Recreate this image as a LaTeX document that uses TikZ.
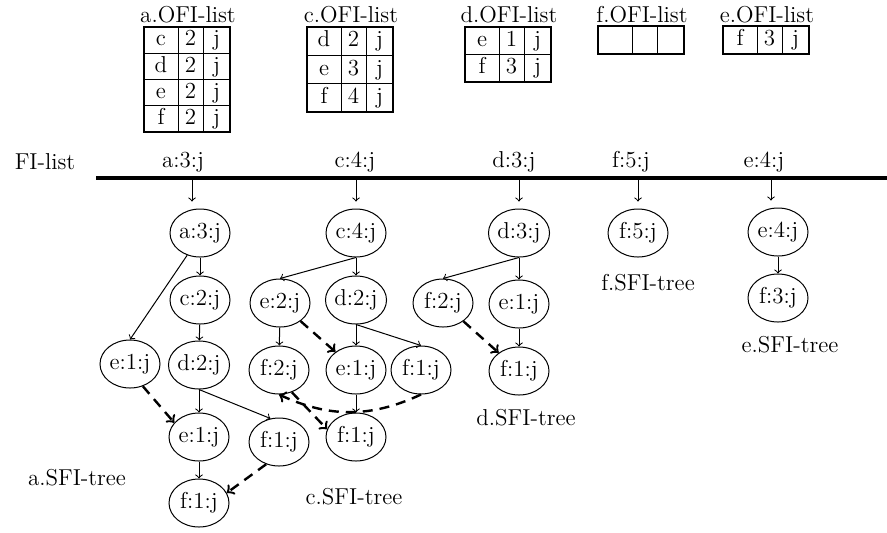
\documentclass[tikz,border=0pt]{standalone}
\usepackage{fontspec}
\usepackage{tikz}
\usetikzlibrary{arrows,shapes}
\tikzstyle{treenode}=[ellipse,draw,line width=0.5pt,minimum width=30pt,minimum height=24pt,inner sep=0pt]
\tikzstyle{cell}=[inner sep=0pt,text height=1.6ex,text depth=0.3ex]
\tikzstyle{link}=[->,line width=0.5pt]
\tikzstyle{crosslink}=[->,line width=1.2pt,dash pattern=on 5pt off 3.5pt]

\begin{document}
\begin{tikzpicture}[x=0.5pt,y=-0.5pt,font=\fontsize{11.5}{13.5}\selectfont]
    \useasboundingbox (0,0) rectangle (887,532);

%OFI-lists
    \def\cw{86};
    \foreach \tx/\ty/\rh/\n/\tn in {144/27/26.25/4/a, 307/27/28.3/3/c, 465/27/27.5/2/d, 598/26/28/1/f, 723/26/28/1/e}
    {
        \node (\tn ofi) at (\tx+44,15) {\tn.OFI-list};
        \foreach \r in {1,...,\n}
            \draw[line width=0.5pt] (\tx,\ty+\r*\rh-\rh) -- (\tx+\cw,\ty+\r*\rh-\rh);
        \draw[line width=0.5pt] (\tx+34,\ty) -- (\tx+34,\ty+\n*\rh);
        \draw[line width=0.5pt] (\tx+59,\ty) -- (\tx+59,\ty+\n*\rh);
        \draw[line width=1.4pt] (\tx,\ty) rectangle (\tx+\cw,\ty+\n*\rh);
    }
    \foreach \tx/\y/\item/\cnt in {144/40.1/c/2, 144/66.4/d/2, 144/92.6/e/2, 144/118.9/f/2, 307/41.2/d/2, 307/69.5/e/3, 307/97.8/f/4, 465/40.8/e/1, 465/68.3/f/3, 723/40/f/3}
    {
        \node[cell] (\item\cnt\tx i) at (\tx+17,\y) {\item};
        \node[cell] (\item\cnt\tx n) at (\tx+46.5,\y) {\cnt};
        \node[cell] (\item\cnt\tx j) at (\tx+72.5,\y) {j};
    }

%FI-list
    \node[anchor=base] (filist) at (45,169) {FI-list};
    \coordinate (lstart) at (96,178);
    \coordinate (lend) at (887,178);
    \draw[line width=1.6pt] (lstart) -- (lend);
    \foreach \x/\name/\label in {183/a/a:3:j, 355/c/c:4:j, 514/d/d:3:j, 631/f/f:5:j, 764/e/e:4:j}
        \node[anchor=base] (h\name) at (\x,167) {\label};

%SFI-trees
    \foreach \pos/\name/\label in {{(200,233)/ra/a:3:j}, {(200,300)/c2a/c:2:j}, {(130,364)/e1l/e:1:j}, {(199,365)/d2a/d:2:j}, {(199,437)/e1a/e:1:j}, {(279,442)/f1a/f:1:j}, {(199,503)/f1ab/f:1:j},
                                   {(356,233)/rc/c:4:j}, {(280,303)/e2c/e:2:j}, {(356,300)/d2c/d:2:j}, {(279,370)/f2c/f:2:j}, {(356,370)/e1c/e:1:j}, {(421,370)/f1c/f:1:j}, {(356,437)/f1cb/f:1:j},
                                   {(519,233)/rd/d:3:j}, {(443,303)/f2d/f:2:j}, {(519,304)/e1d/e:1:j}, {(519,371)/f1d/f:1:j},
                                   {(638,233)/rf/f:5:j}, {(778,232)/re/e:4:j}, {(778,298)/f3e/f:3:j}}
        \node[treenode] (\name) at \pos {\label};

    \foreach \x/\name in {192/ra, 356/rc, 519/rd, 638/rf, 771/re}
    {
        \coordinate (p\name) at (\x,179);
        \draw[link,shorten >=3.5pt] (p\name) -- (p\name |- \name.north);
    }

    \foreach \source/\dest in {ra/c2a, ra.-120/e1l.north, c2a/d2a, d2a/e1a, d2a.south/f1a.110, e1a/f1ab, rc.south/e2c.north, rc/d2c, e2c/f2c, d2c/e1c, d2c.south/f1c.north, e1c/f1cb, rd.south/f2d.north, rd/e1d, e1d/f1d, re/f3e}
        \draw[link] (\source) -- (\dest);
    \foreach \source/\dest in {e1l.-60/e1a.150, f1a.-120/f1ab.20, e2c/e1c, f2c.-60/f1cb.165, f2d/f1d}
        \draw[crosslink] (\source) -- (\dest);
    \draw[crosslink] (f1c.south) to[bend left=25] (f2c.south);

    \foreach \pos/\name/\label in {{(77,478)/asfi/a.SFI-tree}, {(354,497)/csfi/c.SFI-tree}, {(526,418)/dsfi/d.SFI-tree}, {(648,283)/fsfi/f.SFI-tree}, {(790,345)/esfi/e.SFI-tree}}
        \node (\name) at \pos {\label};

\end{tikzpicture}
\end{document}
